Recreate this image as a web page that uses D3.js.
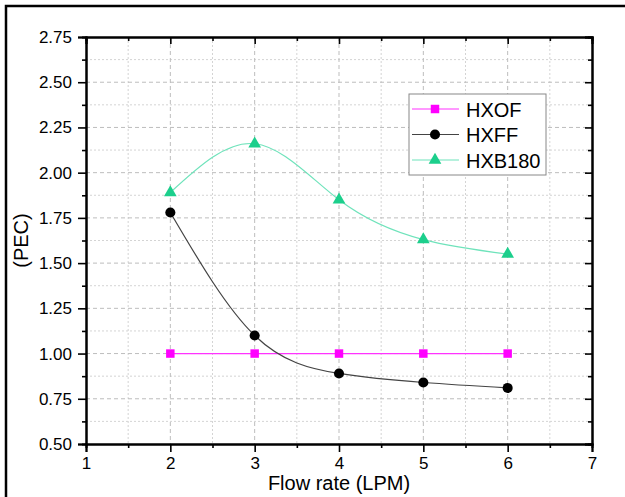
<!doctype html>
<html lang="en">
<head>
    <meta charset="utf-8">
    <title>PEC vs flow rate</title>
    <style>
        body { margin: 0; background: #fff; }
        svg { display: block; font-family: Arial, "Liberation Sans", sans-serif; }
    </style>
</head>
<body>
    <div id="chart"></div>
    <script src="https://d3js.org/d3.v7.min.js"></script>
    <script>
        // data
        var flowRates = [2, 3, 4, 5, 6];
        var hxof = [1.00, 1.00, 1.00, 1.00, 1.00];
        var hxff = [1.78, 1.10, 0.89, 0.84, 0.81];
        var hxb180 = [1.89, 2.16, 1.85, 1.63, 1.55];
        var xTicks = [1, 2, 3, 4, 5, 6, 7];
        var yTicks = [0.50, 0.75, 1.00, 1.25, 1.50, 1.75, 2.00, 2.25, 2.50, 2.75];

        (function () {
            var width = 625, height = 497;
            var left = 86, right = 592, top = 37, bottom = 444;

            var svg = d3.select("#chart").append("svg")
                .attr("width", width)
                .attr("height", height);

            // outer frame (only top/left visible)
            svg.append("rect")
                .attr("x", 6).attr("y", 6)
                .attr("width", 640).attr("height", 520)
                .attr("fill", "none")
                .attr("stroke", "#000")
                .attr("stroke-width", 2.5);

            var x = d3.scaleLinear().domain([1, 7]).range([left, right]);
            var y = d3.scaleLinear().domain([0.5, 2.75]).range([bottom, top]);

            var xMinor = d3.range(1.5, 7, 1);
            var yMinor = d3.range(0.625, 2.75, 0.25);

            // grid
            var grid = svg.append("g");
            grid.selectAll(".gxm").data(xMinor).enter().append("line")
                .attr("x1", x).attr("x2", x).attr("y1", top).attr("y2", bottom)
                .attr("stroke", "#d4d4d4").attr("stroke-dasharray", "2,2");
            grid.selectAll(".gym").data(yMinor).enter().append("line")
                .attr("y1", y).attr("y2", y).attr("x1", left).attr("x2", right)
                .attr("stroke", "#d4d4d4").attr("stroke-dasharray", "2,2");
            grid.selectAll(".gx").data(xTicks.slice(1, -1)).enter().append("line")
                .attr("x1", x).attr("x2", x).attr("y1", top).attr("y2", bottom)
                .attr("stroke", "#bdbdbd").attr("stroke-dasharray", "4,3");
            grid.selectAll(".gy").data(yTicks.slice(1, -1)).enter().append("line")
                .attr("y1", y).attr("y2", y).attr("x1", left).attr("x2", right)
                .attr("stroke", "#bdbdbd").attr("stroke-dasharray", "4,3");

            // axes
            function styleAxis(g) {
                g.select(".domain").attr("stroke-width", 2);
                g.selectAll(".tick line").attr("stroke-width", 1.6);
                g.selectAll("text").attr("font-size", 17).attr("fill", "#000")
                    .attr("font-family", "Arial, 'Liberation Sans', sans-serif");
            }
            var fmt = d3.format(".2f");

            svg.append("g").attr("transform", "translate(0," + bottom + ")")
                .call(d3.axisBottom(x).tickValues(xMinor).tickSize(4).tickFormat(""))
                .call(styleAxis);
            svg.append("g").attr("transform", "translate(0," + bottom + ")")
                .call(d3.axisBottom(x).tickValues(xTicks).tickSize(8).tickPadding(5).tickFormat(d3.format("d")))
                .call(styleAxis);
            svg.append("g").attr("transform", "translate(" + left + ",0)")
                .call(d3.axisLeft(y).tickValues(yMinor).tickSize(4).tickFormat(""))
                .call(styleAxis);
            svg.append("g").attr("transform", "translate(" + left + ",0)")
                .call(d3.axisLeft(y).tickValues(yTicks).tickSize(8).tickPadding(6).tickFormat(fmt))
                .call(styleAxis);
            // mirrored axes, ticks pointing in
            svg.append("g").attr("transform", "translate(0," + top + ")")
                .call(d3.axisBottom(x).tickValues(xMinor).tickSize(4).tickFormat(""))
                .call(styleAxis);
            svg.append("g").attr("transform", "translate(0," + top + ")")
                .call(d3.axisBottom(x).tickValues(xTicks).tickSize(7).tickFormat(""))
                .call(styleAxis);
            svg.append("g").attr("transform", "translate(" + right + ",0)")
                .call(d3.axisLeft(y).tickValues(yMinor).tickSize(4).tickFormat(""))
                .call(styleAxis);
            svg.append("g").attr("transform", "translate(" + right + ",0)")
                .call(d3.axisLeft(y).tickValues(yTicks).tickSize(7).tickFormat(""))
                .call(styleAxis);

            // axis titles
            svg.append("text")
                .attr("x", (left + right) / 2).attr("y", 490)
                .attr("text-anchor", "middle")
                .attr("font-size", 20)
                .text("Flow rate (LPM)");
            svg.append("text")
                .attr("transform", "translate(28," + (top + bottom) / 2 + ") rotate(-90)")
                .attr("text-anchor", "middle")
                .attr("font-size", 20)
                .text("(PEC)");

            var series = [
                { name: "HXOF", values: hxof, line: "#ff33ff", fill: "#ff00ff", shape: d3.symbolSquare, size: 72 },
                { name: "HXFF", values: hxff, line: "#444444", fill: "#000000", shape: d3.symbolCircle, size: 80 },
                { name: "HXB180", values: hxb180, line: "#6fe3bb", fill: "#1ccf8c", shape: d3.symbolTriangle, size: 70 }
            ];

            var line = d3.line()
                .x(function (d) { return x(d[0]); })
                .y(function (d) { return y(d[1]); })
                .curve(d3.curveNatural);

            series.forEach(function (s) {
                var pts = flowRates.map(function (f, i) { return [f, s.values[i]]; });
                svg.append("path")
                    .attr("d", line(pts))
                    .attr("fill", "none")
                    .attr("stroke", s.line)
                    .attr("stroke-width", 1.2);
                svg.selectAll(null).data(pts).enter().append("path")
                    .attr("transform", function (d) { return "translate(" + x(d[0]) + "," + y(d[1]) + ")"; })
                    .attr("d", d3.symbol().type(s.shape).size(s.size))
                    .attr("fill", s.fill);
            });

            // legend
            var lg = svg.append("g");
            lg.append("rect")
                .attr("x", 409).attr("y", 94)
                .attr("width", 137).attr("height", 81)
                .attr("fill", "#fff")
                .attr("stroke", "#888")
                .attr("stroke-width", 1);
            series.forEach(function (s, i) {
                var ly = 109 + i * 25.5;
                lg.append("line")
                    .attr("x1", 412).attr("x2", 459).attr("y1", ly).attr("y2", ly)
                    .attr("stroke", s.line).attr("stroke-width", 1.2);
                lg.append("path")
                    .attr("transform", "translate(435," + ly + ")")
                    .attr("d", d3.symbol().type(s.shape).size(s.size))
                    .attr("fill", s.fill);
                lg.append("text")
                    .attr("x", 466).attr("y", ly + 7.5)
                    .attr("font-size", 20)
                    .text(s.name);
            });
        })();
    </script>
</body>
</html>
